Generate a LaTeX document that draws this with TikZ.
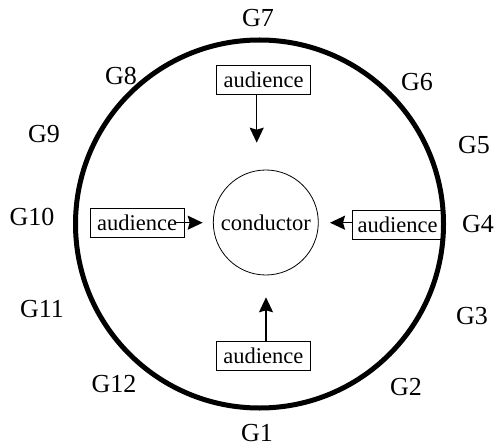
\documentclass[tikz,border=0pt]{standalone}
\usepackage{fontspec}
\setmainfont{Liberation Serif}
\usetikzlibrary{arrows.meta}
\begin{document}
\begin{tikzpicture}[x=1pt,y=-1pt,
  glabel/.style={inner sep=0pt,font=\fontsize{26}{30}\selectfont},
  abox/.style={draw,line width=0.8pt,rectangle,inner sep=0pt,minimum width=94pt,minimum height=29pt,font=\fontsize{22.5}{26}\selectfont},
  arr/.style={line width=1.4pt,-{Stealth[length=15pt,width=14pt,inset=2pt]}}]
\useasboundingbox (0,0) rectangle (494,446);
% outer ring
\node[draw,circle,line width=5pt,minimum size=368pt,inner sep=0pt] (ring) at (259.5,224) {};
% conductor
\node[draw,circle,line width=0.8pt,minimum size=105pt,inner sep=0pt,font=\fontsize{22.5}{26}\selectfont] (cond) at (265.8,222.5) {conductor};
% audience boxes
\node[abox] (aT) at (263.7,79.5) {audience};
\node[abox] (aL) at (137,222.8) {audience};
\node[abox,minimum width=89.6pt] (aR) at (397.5,225.3) {audience};
\node[abox] (aB) at (263.3,356.2) {audience};
% arrow tips
\coordinate (tT) at (256.7,142.7);
\coordinate (tL) at (202.7,222.7);
\coordinate (tR) at (330,222.7);
\coordinate (tB) at (266,297.3);
\draw[arr] (tT |- aT.south) -- (tT);
\draw[arr] ([xshift=-8.3pt]aL.east |- tL) -- (tL);
\draw[arr] (aR.west |- tR) -- (tR);
\draw[arr] (tB |- aB.north) -- (tB);
% G labels
\node[glabel] (g1) at (257,433) {G1};
\node[glabel] (g2) at (406,387) {G2};
\node[glabel] (g3) at (472,316) {G3};
\node[glabel] (g4) at (478,224) {G4};
\node[glabel] (g5) at (474,145) {G5};
\node[glabel] (g6) at (417,82) {G6};
\node[glabel] (g7) at (258,18.5) {G7};
\node[glabel] (g8) at (121,76) {G8};
\node[glabel] (g9) at (44,134) {G9};
\node[glabel] (g10) at (32,217) {G10};
\node[glabel] (g11) at (42,309) {G11};
\node[glabel] (g12) at (114,384) {G12};
\end{tikzpicture}
\end{document}
